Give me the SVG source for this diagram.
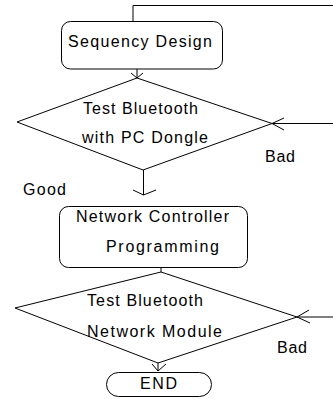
<svg xmlns="http://www.w3.org/2000/svg" width="333" height="399" viewBox="0 0 333 399">
<style>
.shape{fill:none;stroke:#000;stroke-width:1}
.line{fill:none;stroke:#000;stroke-width:1}
text{font-family:"Liberation Sans",Arial,sans-serif;font-size:16px;fill:#000}
</style>
<rect width="333" height="399" fill="#fff"/>
<g id="connectors">
<polyline class="line" points="133,21 133,5.5 333,5.5"/>
<line class="line" x1="137" y1="69" x2="137" y2="78"/>
<polyline class="line" points="131,73 137,78 143,73"/>
<line class="line" x1="143.5" y1="170" x2="143.5" y2="195"/>
<polyline class="line" points="133,190 143.5,195 156,190"/>
<line class="line" x1="333" y1="123.5" x2="272" y2="123.5"/>
<polyline class="line" points="284,118 272,123.5 284,130"/>
<line class="line" x1="161" y1="268" x2="161" y2="272"/>
<line class="line" x1="158" y1="363" x2="158" y2="371"/>
<polyline class="line" points="152,364 158,371 166,364"/>
<line class="line" x1="333" y1="317" x2="297" y2="317"/>
<polyline class="line" points="309,310 297,317 310,323"/>
<text x="265" y="162" textLength="30" lengthAdjust="spacing">Bad</text>
<text x="23" y="195" textLength="43" lengthAdjust="spacing">Good</text>
<text x="277" y="353" textLength="30" lengthAdjust="spacing">Bad</text>
</g>
<g id="sequency-design">
<rect class="shape" x="61.5" y="21.5" width="161" height="47.5" rx="9"/>
<text x="68" y="47" textLength="144" lengthAdjust="spacing">Sequency Design</text>
</g>
<g id="test-pc-dongle">
<polygon class="shape" points="137,78 272,123.5 143,170 17,122"/>
<text x="83" y="114" textLength="115" lengthAdjust="spacing">Test Bluetooth</text>
<text x="82" y="143" textLength="126" lengthAdjust="spacing">with PC Dongle</text>
</g>
<g id="network-controller">
<rect class="shape" x="59.5" y="206.5" width="188" height="61" rx="9"/>
<text x="76" y="222" textLength="153" lengthAdjust="spacing">Network Controller</text>
<text x="106" y="252" textLength="113" lengthAdjust="spacing">Programming</text>
</g>
<g id="test-network-module">
<polygon class="shape" points="161,272 297,317 158,363 15,308"/>
<text x="87" y="306" textLength="116" lengthAdjust="spacing">Test Bluetooth</text>
<text x="87" y="337" textLength="135" lengthAdjust="spacing">Network Module</text>
</g>
<g id="end">
<rect class="shape" x="106.5" y="372.5" width="105" height="24" rx="12"/>
<text x="140" y="389" textLength="37" lengthAdjust="spacing">END</text>
</g>
</svg>
